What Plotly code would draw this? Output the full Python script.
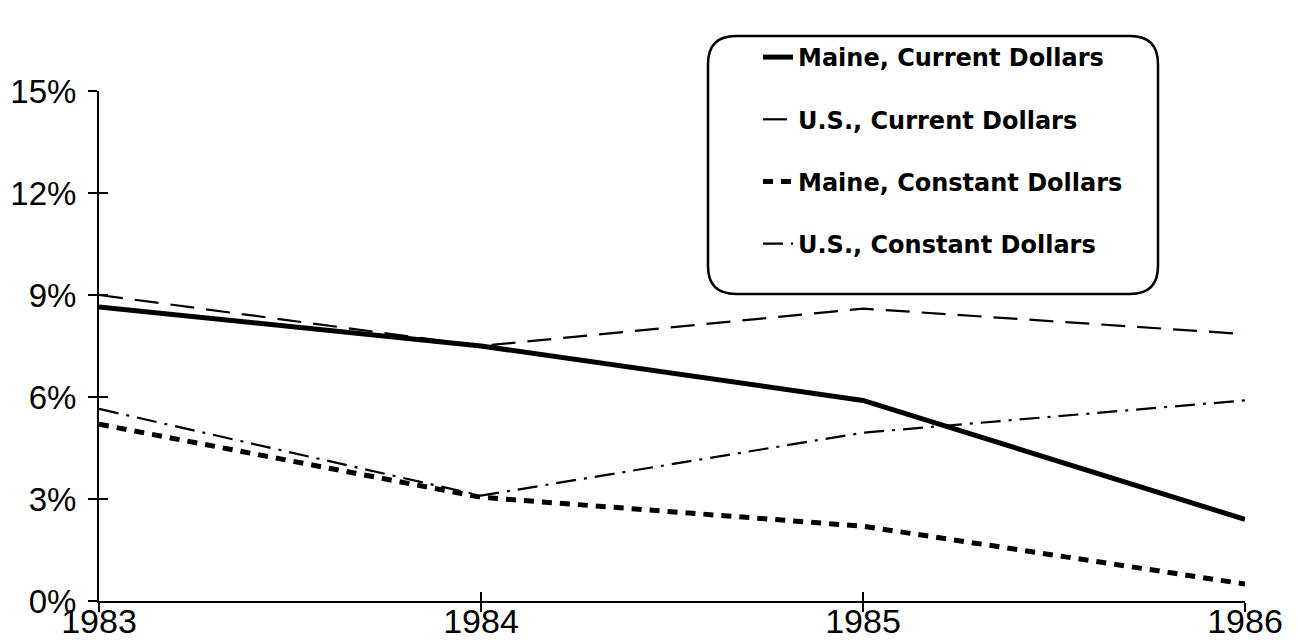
import plotly.graph_objects as go

years = [1983, 1984, 1985, 1986]
maine_current = [8.65, 7.5, 5.9, 2.4]
us_current = [9.0, 7.5, 8.6, 7.85]
maine_constant = [5.2, 3.05, 2.2, 0.5]
us_constant = [5.65, 3.1, 4.95, 5.9]

y_ticks = [0, 3, 6, 9, 12, 15]
y_tick_text = ["0%", "3%", "6%", "9%", "12%", "15%"]

series = [
    ("Maine, Current Dollars", maine_current, dict(color="black", width=5, dash="solid")),
    ("U.S., Current Dollars", us_current, dict(color="black", width=2.2, dash="24px,12px")),
    ("Maine, Constant Dollars", maine_constant, dict(color="black", width=5, dash="10px,8px")),
    ("U.S., Constant Dollars", us_constant, dict(color="black", width=2.2, dash="20px,8px,3px,8px")),
]

fig = go.Figure()
for i, (name, vals, line) in enumerate(series):
    fig.add_trace(go.Scatter(x=years, y=vals, mode="lines", name=name, line=line,
                             legendgroup=f"g{i}"))

# transparent copies bound to the overlay axes so their tick marks are drawn
for xa in ("x2", "x3"):
    fig.add_trace(go.Scatter(x=years, y=maine_current, xaxis=xa, yaxis="y2", mode="lines",
                             opacity=0, showlegend=False, hoverinfo="skip"))

W, H = 1299, 642
L, R, T, B = 91, 62, 83, 49
pw, ph = W - L - R, H - T - B

def px(x):
    return (x - L) / pw

def py(y):
    return (H - B - y) / ph

# rounded legend box
x0, x1, y0, y1 = 700, 1150, 28, 286
r = 28
rx, ry = r / pw, r / ph
X0, X1, Yt, Yb = px(x0), px(x1), py(y0), py(y1)
path = (f"M {X0+rx},{Yt} L {X1-rx},{Yt} Q {X1},{Yt} {X1},{Yt-ry} "
        f"L {X1},{Yb+ry} Q {X1},{Yb} {X1-rx},{Yb} L {X0+rx},{Yb} "
        f"Q {X0},{Yb} {X0},{Yb+ry} L {X0},{Yt-ry} Q {X0},{Yt} {X0+rx},{Yt} Z")

tick_style = dict(ticklen=9, tickwidth=2, tickcolor="black", showgrid=False,
                  zeroline=False, automargin=False)

fig.update_layout(
    width=W, height=H,
    margin=dict(l=L, r=R, t=T, b=B, autoexpand=False),
    paper_bgcolor="white", plot_bgcolor="white",
    font=dict(family="Liberation Sans", color="black"),
    showlegend=True,
    legend=dict(x=px(750), y=py(27), xanchor="left", yanchor="top",
                bgcolor="rgba(0,0,0,0)", borderwidth=0,
                font=dict(family="DejaVu Sans", size=24, color="black", weight="bold"),
                tracegroupgap=28, itemwidth=30),
    shapes=[dict(type="path", xref="paper", yref="paper", path=path,
                 line=dict(color="black", width=2.5), fillcolor="rgba(0,0,0,0)")],
    # primary x axis: tick labels only
    xaxis=dict(range=[1983, 1986], tickvals=years, ticktext=[str(y) for y in years],
               anchor="free", position=0.006, showline=False, ticks="",
               tickfont=dict(size=34, family="Liberation Sans"),
               showgrid=False, zeroline=False, automargin=False),
    yaxis=dict(range=[0, 15], tickvals=y_ticks, ticktext=y_tick_text,
               showline=True, linecolor="black", linewidth=2,
               ticks="outside", ticklabelstandoff=5,
               tickfont=dict(size=33, family="Liberation Sans"), **tick_style),
    # axis line with outer ticks
    xaxis2=dict(range=[1983, 1986], tickvals=years, overlaying="x", anchor="y",
                showticklabels=False, showline=True, linecolor="black", linewidth=2,
                ticks="outside", side="bottom", **tick_style),
    # inner ticks
    xaxis3=dict(range=[1983, 1986], tickvals=years, overlaying="x", anchor="y",
                showticklabels=False, showline=False, ticks="inside", side="bottom",
                **tick_style),
    yaxis2=dict(range=[0, 15], tickvals=y_ticks, overlaying="y", anchor="x2",
                showticklabels=False, showline=False, ticks="inside", side="left",
                **tick_style),
)

fig.write_html("out.html")
